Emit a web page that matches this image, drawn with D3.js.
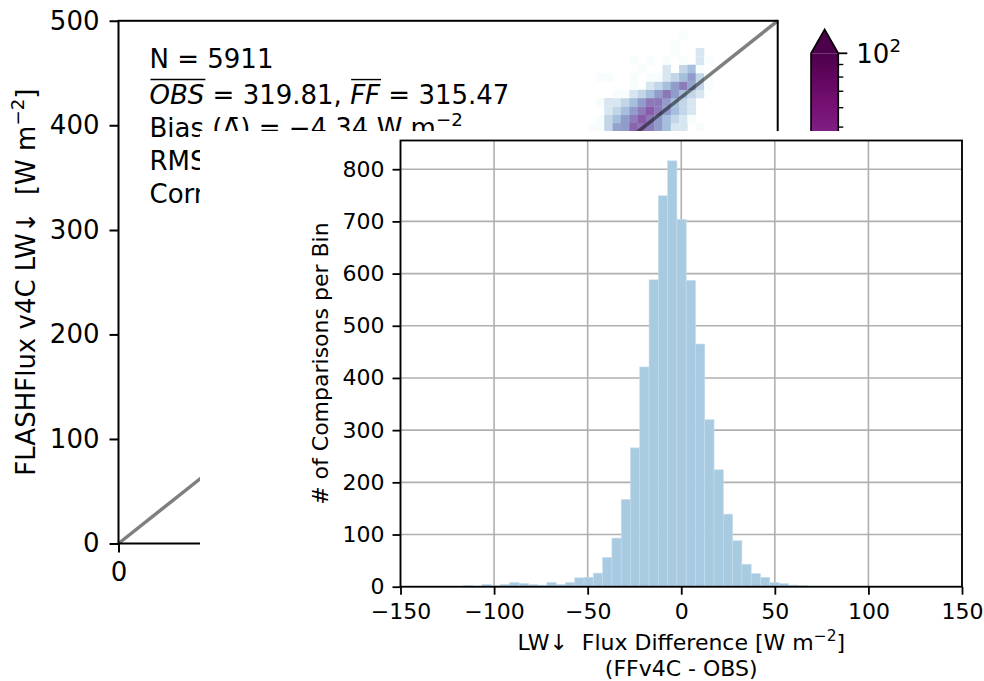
<!DOCTYPE html>
<html>
<head>
<meta charset="utf-8">
<script src="https://cdn.jsdelivr.net/npm/d3@7"></script>
<style>
body { margin: 0; background: #fff; }
svg { display: block; }
text { font-family: "DejaVu Sans", sans-serif; fill: #000; white-space: pre; }
</style>
</head>
<body>
<script>
// inset histogram: FFv4C - OBS (W m-2), bins of ~5 W m-2
const binStart = -116.4
const binWidth = 4.96
const binCounts = [2, 1, 4, 2, 4, 8, 6, 4, 3, 8, 4, 8, 17, 18, 26, 56, 93, 167, 266, 421,
                   588, 749, 816, 704, 587, 465, 320, 224, 139, 88, 43, 25, 18, 8, 6, 3, 2, 1, 1]
const histXTicks = [-150, -100, -50, 0, 50, 100, 150]
const histYTicks = [0, 100, 200, 300, 400, 500, 600, 700, 800]

// background scatter density (only the top strip shows above the inset)
const densXEdges = [355.8, 362.1, 368.4, 374.7, 381.0, 387.4, 393.7, 400.0, 406.3, 412.6,
                    418.9, 425.2, 431.5, 437.8, 444.1, 450.4]
const densYEdges = [394.3, 402.3, 410.2, 418.2, 426.2, 434.1, 442.1, 450.1, 458.0, 466.0,
                    474.0, 481.9, 489.9]
const densCounts = [ // rows from bottom to top
    [1, 1, 3, 8, 9, 20, 16, 14, 9, 5, 2, 2, 0, 1, 0],
    [0, 1, 3, 5, 9, 14, 22, 15, 9, 5, 3, 2, 1, 0, 0],
    [0, 0, 2, 3, 5, 9, 14, 22, 14, 9, 5, 3, 2, 0, 0],
    [0, 1, 2, 2, 3, 5, 9, 15, 15, 9, 5, 3, 2, 0, 0],
    [0, 0, 0, 1, 1, 2, 3, 5, 9, 15, 9, 5, 3, 2, 0],
    [0, 0, 0, 0, 0, 1, 0, 2, 3, 5, 9, 14, 8, 3, 1],
    [0, 1, 1, 0, 0, 1, 0, 1, 1, 2, 3, 5, 9, 3, 1],
    [0, 0, 0, 0, 0, 0, 1, 0, 0, 2, 0, 3, 5, 1, 0],
    [0, 0, 0, 0, 0, 1, 0, 1, 0, 1, 0, 1, 0, 2, 1],
    [0, 0, 0, 0, 0, 0, 0, 0, 0, 0, 1, 0, 0, 2, 0],
    [0, 0, 0, 0, 0, 0, 0, 0, 0, 0, 1, 0, 0, 0, 0],
    [0, 0, 0, 0, 0, 0, 0, 0, 0, 0, 0, 1, 0, 0, 0],
]
const bgTicks = [0, 100, 200, 300, 400, 500]
const cbMinor = [2, 3, 4, 5, 6, 7, 8, 9, 20, 30, 40, 50, 60, 70, 80, 90]

const nComp = 5911, meanObs = 319.81, meanFF = 315.47, bias = -4.34, rmse = 24.61, corr = 0.94

const W = 984, H = 681
const bigFont = 26, smallFont = 22

const svg = d3.select("body").append("svg").attr("width", W).attr("height", H)

// adds tspans; parts: [text, {sup, italic}]
function rich(sel, parts, size) {
    let up = false
    parts.forEach(([t, o]) => {
        o = o || {}
        const ts = sel.append("tspan").text(t)
        if (o.italic) ts.attr("font-style", "italic")
        if (o.sup) { ts.attr("font-size", size * 0.7).attr("dy", -size * 0.42); up = true }
        else if (up) { ts.attr("dy", size * 0.42); up = false }
    })
    return sel
}
const unit = [["[W m"], ["\u22122", {sup: true}], ["]"]]

// inset covers everything right of x=200 and below y=131
const inset = {x: 200, y: 131}
svg.append("defs").append("clipPath").attr("id", "behind")
    .append("path")
    .attr("d", `M0,0H${W}V${inset.y}H${inset.x}V${H}H0Z`)

// ---------- background plot ----------
const bgG = svg.append("g").attr("clip-path", "url(#behind)")
const bx = d3.scaleLinear([0, 500], [118.5, 777.7])
const by = d3.scaleLinear([0, 500], [543.5, 20.8])
const color = d3.scaleSequentialLog(d3.interpolateBuPu).domain([1, 100]).clamp(true)

const cells = []
densCounts.forEach((row, r) => row.forEach((c, i) => {
    if (c > 0) cells.push({x0: densXEdges[i], x1: densXEdges[i + 1], y0: densYEdges[r], y1: densYEdges[r + 1], c})
}))
bgG.append("g").selectAll("rect").data(cells).join("rect")
    .attr("x", d => bx(d.x0))
    .attr("y", d => by(d.y1))
    .attr("width", d => bx(d.x1) - bx(d.x0) + 0.3)
    .attr("height", d => by(d.y0) - by(d.y1) + 0.3)
    .attr("fill", d => color(d.c))

bgG.append("line")
    .attr("x1", bx(0)).attr("y1", by(0)).attr("x2", bx(500)).attr("y2", by(500))
    .attr("stroke", "#000").attr("stroke-opacity", 0.5).attr("stroke-width", 3.5)

bgG.append("rect")
    .attr("x", bx(0)).attr("y", by(500))
    .attr("width", bx(500) - bx(0)).attr("height", by(0) - by(500))
    .attr("fill", "none").attr("stroke", "#000").attr("stroke-width", 2)

const bgY = bgG.append("g").attr("transform", `translate(${bx(0)},0)`)
    .call(d3.axisLeft(by).tickValues(bgTicks).tickSize(9).tickPadding(10))
const bgX = bgG.append("g").attr("transform", `translate(0,${by(0)})`)
    .call(d3.axisBottom(bx).tickValues(bgTicks).tickSize(9).tickPadding(10))
for (const a of [bgY, bgX]) {
    a.select(".domain").remove()
    a.selectAll(".tick line").attr("stroke", "#000").attr("stroke-width", 2)
    a.selectAll("text").attr("font-size", bigFont).attr("font-family", "DejaVu Sans")
}

rich(bgG.append("text")
    .attr("transform", `translate(34.5,${(by(0) + by(500)) / 2}) rotate(-90)`)
    .attr("text-anchor", "middle").attr("font-size", bigFont),
    [["FLASHFlux v4C LW\u2193  "], ...unit], bigFont)

// statistics box
const tx = 149.5
bgG.append("text").attr("x", tx).attr("y", 68).attr("font-size", bigFont).text(`N = ${nComp}`)
const l2 = rich(bgG.append("text").attr("x", tx).attr("y", 104).attr("font-size", bigFont),
    [["OBS", {italic: true}], [` = ${meanObs.toFixed(2)}, `], ["FF", {italic: true}], [` = ${meanFF.toFixed(2)}`]], bigFont)
const n2 = l2.node()
const ffStart = 3 + ` = ${meanObs.toFixed(2)}, `.length
for (const [a, b] of [[0, 2], [ffStart, ffStart + 1]]) {
    bgG.append("line")
        .attr("x1", n2.getStartPositionOfChar(a).x + 1).attr("x2", n2.getEndPositionOfChar(b).x + 1)
        .attr("y1", 104 - 0.94 * bigFont).attr("y2", 104 - 0.94 * bigFont)
        .attr("stroke", "#000").attr("stroke-width", 1.4)
}
rich(bgG.append("text").attr("x", tx).attr("y", 137).attr("font-size", bigFont),
    [["Bias (\u0394\u0304) = " + d3.format(".2f")(bias) + " W m"], ["\u22122", {sup: true}]], bigFont)
rich(bgG.append("text").attr("x", tx).attr("y", 170).attr("font-size", bigFont),
    [[`RMSE = ${rmse.toFixed(2)} W m`], ["\u22122", {sup: true}]], bigFont)
bgG.append("text").attr("x", tx).attr("y", 203).attr("font-size", bigFont).text(`Corr = ${corr.toFixed(2)}`)

// colorbar (log, BuPu, extend max)
const cy = d3.scaleLog([1, 100], [543.5, 53.3])
const cbX = 811, cbW = 27.3
const grad = svg.select("defs").append("linearGradient").attr("id", "cb")
    .attr("x1", 0).attr("x2", 0).attr("y1", 1).attr("y2", 0)
d3.range(0, 1.0001, 0.05).forEach(t =>
    grad.append("stop").attr("offset", t).attr("stop-color", d3.interpolateBuPu(t)))
bgG.append("rect").attr("x", cbX).attr("y", cy(100)).attr("width", cbW)
    .attr("height", cy(1) - cy(100)).attr("fill", "url(#cb)")
bgG.append("path")
    .attr("d", `M${cbX},${cy(100)}L${cbX + cbW / 2},${cy(100) - 24}L${cbX + cbW},${cy(100)}Z`)
    .attr("fill", d3.interpolateBuPu(1))
bgG.append("path")
    .attr("d", `M${cbX},${cy(1)}L${cbX},${cy(100)}L${cbX + cbW / 2},${cy(100) - 24}L${cbX + cbW},${cy(100)}L${cbX + cbW},${cy(1)}Z`)
    .attr("fill", "none").attr("stroke", "#000").attr("stroke-width", 1.6)
bgG.append("g").selectAll("line").data(cbMinor).join("line")
    .attr("x1", cbX + cbW).attr("x2", cbX + cbW + 5)
    .attr("y1", d => cy(d)).attr("y2", d => cy(d))
    .attr("stroke", "#000").attr("stroke-width", 1.4)
bgG.append("g").selectAll("line").data([1, 10, 100]).join("line")
    .attr("x1", cbX + cbW).attr("x2", cbX + cbW + 9)
    .attr("y1", d => cy(d)).attr("y2", d => cy(d))
    .attr("stroke", "#000").attr("stroke-width", 1.8)
bgG.append("g").selectAll("text").data([1, 10, 100]).join("text")
    .attr("x", cbX + cbW + 18).attr("y", d => cy(d)).attr("dy", "0.36em")
    .attr("font-size", bigFont)
    .each(function (d) {
        rich(d3.select(this), [["10"], [String(Math.round(Math.log10(d))), {sup: true}]], bigFont)
    })

// ---------- inset (white panel) ----------
svg.append("rect").attr("x", inset.x).attr("y", inset.y)
    .attr("width", W - inset.x).attr("height", H - inset.y).attr("fill", "#fff")

const hx = d3.scaleLinear([-150, 150], [400.5, 962])
const hy = d3.scaleLinear([0, 855], [586.7, 140.5])

const grid = svg.append("g").attr("stroke", "#b0b0b0").attr("stroke-width", 1.6)
grid.selectAll(".gx").data(histXTicks).join("line")
    .attr("x1", d => hx(d)).attr("x2", d => hx(d)).attr("y1", hy(855)).attr("y2", hy(0))
grid.selectAll(".gy").data(histYTicks).join("line")
    .attr("y1", d => hy(d)).attr("y2", d => hy(d)).attr("x1", hx(-150)).attr("x2", hx(150))

const bins = binCounts.map((c, i) => ({x0: binStart + i * binWidth, x1: binStart + (i + 1) * binWidth, c}))
svg.append("g").selectAll("rect").data(bins).join("rect")
    .attr("x", d => hx(d.x0))
    .attr("y", d => hy(d.c))
    .attr("width", d => hx(d.x1) - hx(d.x0))
    .attr("height", d => hy(0) - hy(d.c))
    .attr("fill", "#a9cbe2")
    .attr("stroke", "#c4dcec").attr("stroke-width", 0.6)

svg.append("rect")
    .attr("x", hx(-150)).attr("y", hy(855))
    .attr("width", hx(150) - hx(-150)).attr("height", hy(0) - hy(855))
    .attr("fill", "none").attr("stroke", "#000").attr("stroke-width", 1.8)

const hxa = svg.append("g").attr("transform", `translate(0,${hy(0)})`)
    .call(d3.axisBottom(hx).tickValues(histXTicks).tickSize(8).tickPadding(9))
const hya = svg.append("g").attr("transform", `translate(${hx(-150)},0)`)
    .call(d3.axisLeft(hy).tickValues(histYTicks).tickSize(8).tickPadding(8))
for (const a of [hxa, hya]) {
    a.select(".domain").remove()
    a.selectAll(".tick line").attr("stroke", "#000").attr("stroke-width", 1.8)
    a.selectAll("text").attr("font-size", smallFont).attr("font-family", "DejaVu Sans")
}

rich(svg.append("text")
    .attr("x", (hx(-150) + hx(150)) / 2).attr("y", 650)
    .attr("text-anchor", "middle").attr("font-size", smallFont),
    [["LW\u2193  Flux Difference "], ...unit], smallFont)
svg.append("text")
    .attr("x", (hx(-150) + hx(150)) / 2).attr("y", 675.5)
    .attr("text-anchor", "middle").attr("font-size", smallFont)
    .text("(FFv4C - OBS)")
svg.append("text")
    .attr("transform", `translate(328,${(hy(0) + hy(855)) / 2}) rotate(-90)`)
    .attr("text-anchor", "middle").attr("font-size", smallFont)
    .text("# of Comparisons per Bin")
</script>
</body>
</html>
